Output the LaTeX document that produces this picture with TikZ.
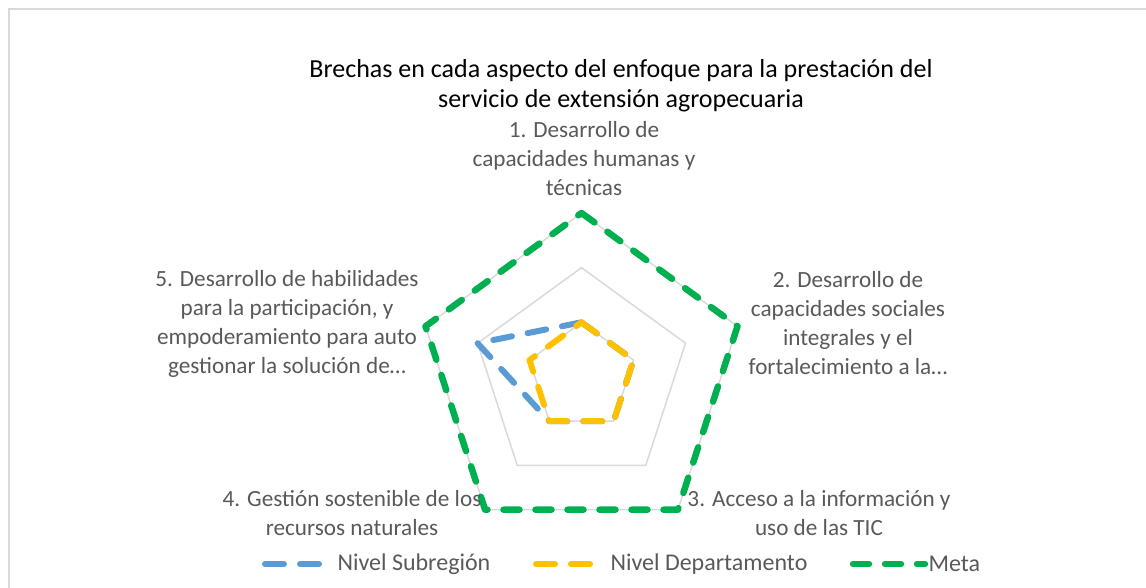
\documentclass[tikz,border=0pt]{standalone}
\usepackage{fontspec}
\setmainfont{Carlito}
\usepackage{tikz}
\usetikzlibrary{positioning,calc}

\definecolor{gridgray}{HTML}{D9D9D9}
\definecolor{labelgray}{HTML}{595959}
\definecolor{subreg}{HTML}{5B9BD5}
\definecolor{depto}{HTML}{FFC000}
\definecolor{meta}{HTML}{00B050}

\begin{document}
\begin{tikzpicture}[
    x=1pt, y=1pt,
    gridline/.style={draw=gridgray, line width=1.5pt},
    serie/.style={line width=6pt, line cap=round, line join=round},
    subregline/.style={serie, draw=subreg, dash pattern=on 19pt off 16pt},
    deptoline/.style={serie, draw=depto, dash pattern=on 19pt off 16pt},
    metaline/.style={serie, line width=6.5pt, draw=meta, dash pattern=on 16pt off 16pt},
    axislabel/.style={text=labelgray, align=center, font=\fontsize{23.2}{29}\selectfont},
    legendtext/.style={text=labelgray, anchor=west, font=\fontsize{24}{28}\selectfont}
]
    \useasboundingbox (0,0) rectangle (1146,588);
    % chart frame
    \draw[gridgray, line width=2pt] (9,0) -- (9,579) -- (1146,579);

    % title
    \node[align=center, font=\fontsize{26}{30}\selectfont] (title) at (621,502)
        {Brechas en cada aspecto del enfoque para la prestación del\\servicio de extensión agropecuaria};

    % radar
    \begin{scope}[shift={(581.5,211)}]
        \foreach \r in {54.7,109.3,164}
            \draw[gridline] (90:\r) \foreach \a in {18,-54,-126,162}{ -- (\a:\r)} -- cycle;
        % Nivel Subregion
        \draw[subregline] (90:54.7) -- (18:54.7) -- (-54:54.7) -- (-126:54.7) -- (162:109.3) -- cycle;
        % Nivel Departamento
        \draw[deptoline] (90:54.7) -- (18:54.7) -- (-54:54.7) -- (-126:54.7) -- (162:54.7) -- cycle;
        % Meta
        \draw[metaline] (90:164) -- (18:164) -- (-54:164) -- (-126:164) -- (162:164) -- cycle;
    \end{scope}

    % axis labels
    \node[axislabel] (ax1) at (584,429) {1. Desarrollo de\\capacidades humanas y\\técnicas};
    \node[axislabel] (ax2) at (848,264.5) {2. Desarrollo de\\capacidades sociales\\integrales y el\\fortalecimiento a la…};
    \node[axislabel] (ax3) at (819,75) {3. Acceso a la información y\\uso de las TIC};
    \node[axislabel] (ax4) at (352,75) {4. Gestión sostenible de los\\recursos naturales};
    \node[axislabel] (ax5) at (287,264.5) {5. Desarrollo de habilidades\\para la participación, y\\empoderamiento para auto\\gestionar la solución de…};

    % legend
    \coordinate (l1) at (265,24);
    \coordinate (l2) at (536,24);
    \coordinate (l3) at (853,24);
    \draw[subregline] (l1) -- ++(57,0) coordinate (l1e);
    \draw[deptoline] (l2) -- ++(56,0) coordinate (l2e);
    \draw[metaline] (l3) -- ++(72,0) coordinate (l3e);
    \node[legendtext, right=12pt of l1e] (leg1) {Nivel Subregión};
    \node[legendtext, right=15pt of l2e] (leg2) {Nivel Departamento};
    \node[legendtext, right=0pt of l3e] (leg3) {Meta};
\end{tikzpicture}
\end{document}
